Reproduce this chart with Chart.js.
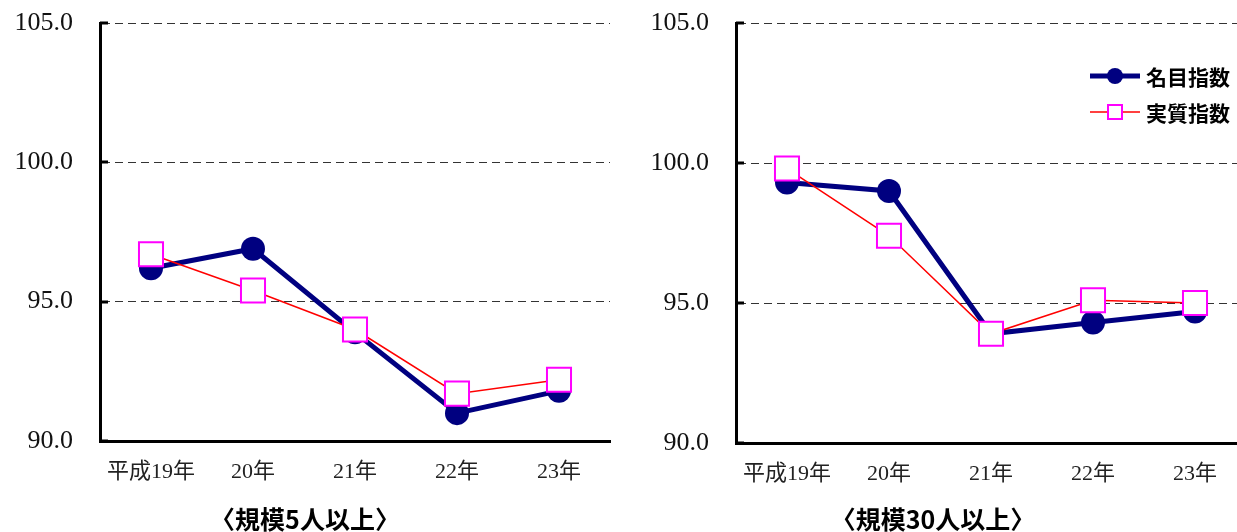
<!DOCTYPE html>
<html lang="ja">
<head>
<meta charset="utf-8">
<script src="https://cdn.jsdelivr.net/npm/chart.js@4.4.1/dist/chart.umd.min.js"></script>
<style>
  html, body { margin: 0; padding: 0; background: #fff; }
  body { width: 1237px; height: 532px; overflow: hidden; position: relative; }
  .box { position: absolute; top: 0; height: 532px; }
  #leftBox { left: 0; width: 638px; }
  #rightBox { left: 620px; width: 670px; }
</style>
</head>
<body>
<div class="box" id="leftBox"><canvas id="left"></canvas></div>
<div class="box" id="rightBox"><canvas id="right"></canvas></div>
<script>
// 名目指数・実質指数 — 規模5人以上 / 規模30人以上, two line panels side by side.
const YEARS = ["平成19年", "20年", "21年", "22年", "23年"];
const SERIES_NAMES = ["名目指数", "実質指数"];

const NOMINAL_5 = [96.2, 96.9, 93.9, 91.0, 91.8];
const REAL_5 = [96.7, 95.4, 94.0, 91.7, 92.2];
const NOMINAL_30 = [99.3, 99.0, 93.9, 94.3, 94.7];
const REAL_30 = [99.8, 97.4, 93.9, 95.1, 95.0];

const Y_MIN = 90, Y_MAX = 105, Y_STEP = 5;

const NAVY = "#000080", MAGENTA = "#ff00ff", RED = "#ff0000";
const SERIF = "'Liberation Serif', 'Noto Sans CJK JP', serif";
const SANS = "'Noto Sans CJK JP', 'Noto Sans', sans-serif";

// short inward tick at each y gridline + optional line/marker legend inside the plot
const decor = {
  id: "decor",
  afterDraw(chart, _args, opts) {
    const g = chart.ctx, a = chart.chartArea, y = chart.scales.y;
    g.save();
    g.strokeStyle = "#000"; g.lineWidth = 3;
    y.ticks.forEach((t) => {
      const py = Math.round(y.getPixelForValue(t.value));
      g.beginPath(); g.moveTo(a.left, py); g.lineTo(a.left + 8, py); g.stroke();
    });
    if (opts.legend) {
      const lx = a.left + opts.dx, w = 50;
      chart.data.datasets.forEach((ds, i) => {
        const ly = a.top + opts.dy + i * 36, cx = lx + w / 2;
        g.strokeStyle = ds.borderColor; g.lineWidth = i === 0 ? 5 : 1.5;
        g.beginPath(); g.moveTo(lx, ly); g.lineTo(lx + w, ly); g.stroke();
        if (ds.pointStyle === "circle") {
          g.fillStyle = ds.pointBackgroundColor;
          g.beginPath(); g.arc(cx, ly, 8, 0, 2 * Math.PI); g.fill();
        } else {
          g.fillStyle = ds.pointBackgroundColor; g.strokeStyle = ds.pointBorderColor; g.lineWidth = 2;
          g.fillRect(cx - 7, ly - 7, 14, 14); g.strokeRect(cx - 7, ly - 7, 14, 14);
        }
        g.fillStyle = "#000"; g.font = `bold 21px ${SANS}`;
        g.textAlign = "left"; g.textBaseline = "middle";
        g.fillText(ds.label, lx + w + 6, ly + 1);
      });
    }
    g.restore();
  },
};

function makeDatasets(nominal, real) {
  return [
    { label: SERIES_NAMES[0], data: nominal, order: 1, borderColor: NAVY, borderWidth: 5,
      pointStyle: "circle", pointRadius: 12, pointBackgroundColor: NAVY,
      pointBorderColor: NAVY, pointBorderWidth: 0, tension: 0 },
    { label: SERIES_NAMES[1], data: real, order: 0, borderColor: RED, borderWidth: 1.5,
      pointStyle: "rect", pointRadius: 17, pointBackgroundColor: "#fff",
      pointBorderColor: MAGENTA, pointBorderWidth: 2, tension: 0 },
  ];
}

function makeChart(id, nominal, real, cfg) {
  return new Chart(document.getElementById(id), {
    type: "line",
    data: { labels: YEARS, datasets: makeDatasets(nominal, real) },
    plugins: [decor],
    options: {
      responsive: true, maintainAspectRatio: false, animation: false,
      layout: { padding: { top: cfg.top, right: cfg.right, bottom: 0, left: 0 } },
      plugins: {
        legend: { display: false }, tooltip: { enabled: false },
        title: { display: true, position: "bottom", text: cfg.title, color: "#000",
          font: { family: SANS, size: 25, weight: "bold", lineHeight: 1 },
          padding: { top: 0, bottom: 0 } },
        decor: cfg.legend ? { legend: true, dx: 354, dy: 53 } : { legend: false },
      },
      scales: {
        x: {
          offset: true,
          grid: { color: "rgba(0,0,0,0)", drawTicks: false },
          border: { display: true, color: "#000", width: 3 },
          ticks: { color: "#222", padding: 18, maxRotation: 0, font: { family: SERIF, size: 22 } },
          afterFit: (s) => { s.height = cfg.xHeight; },
        },
        y: {
          min: Y_MIN, max: Y_MAX,
          grid: { color: "#333", lineWidth: 1, drawTicks: false },
          border: { display: true, color: "#000", width: 3, dash: [8, 5] },
          ticks: { stepSize: Y_STEP, color: "#111", padding: 27,
            font: { family: SERIF, size: 26 }, callback: (v) => v.toFixed(1) },
          afterFit: (s) => { s.width = cfg.yWidth; s.paddingTop = 0; s.paddingBottom = 0; },
        },
      },
    },
  });
}

makeChart("left", NOMINAL_5, REAL_5,
  { title: "〈規模5人以上〉", top: 23, right: 28, xHeight: 66, yWidth: 100, legend: false });
makeChart("right", NOMINAL_30, REAL_30,
  { title: "〈規模30人以上〉", top: 23, right: 44, xHeight: 64, yWidth: 116, legend: true });
</script>
</body>
</html>
